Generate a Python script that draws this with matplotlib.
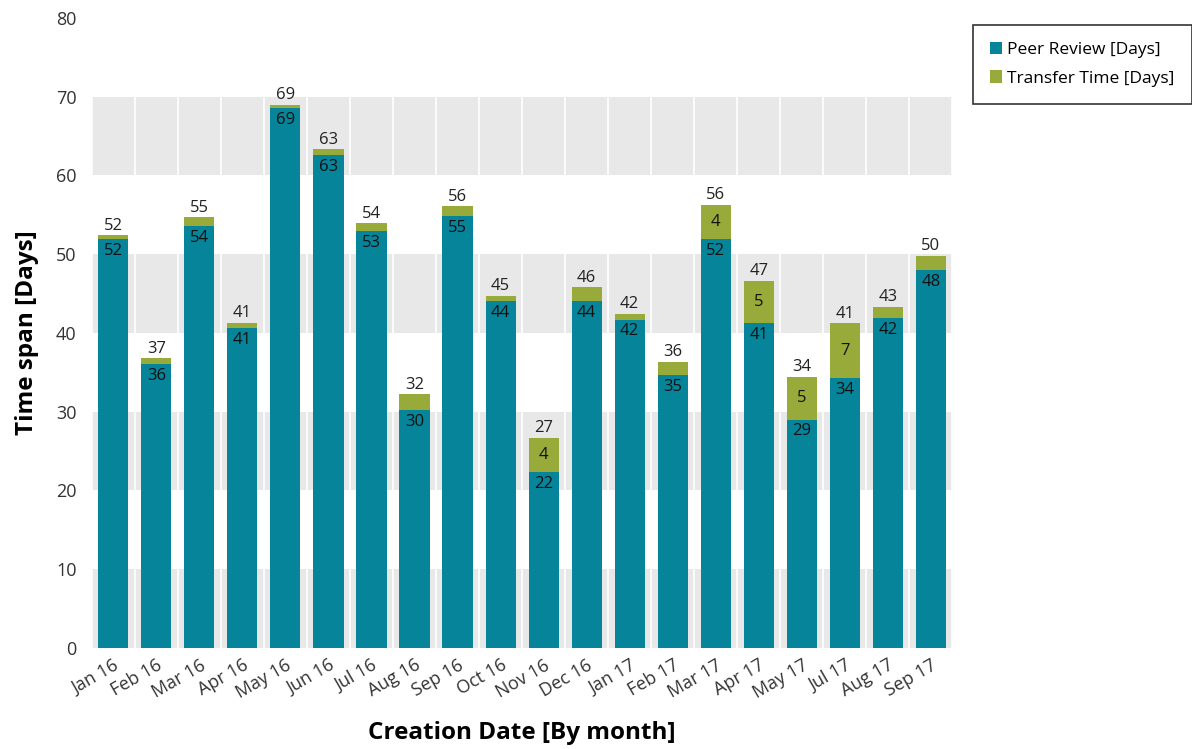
import numpy as np
import matplotlib.pyplot as plt

plt.rcParams['font.family'] = ['Open Sans', 'DejaVu Sans']

months = ["Jan 16", "Feb 16", "Mar 16", "Apr 16", "May 16", "Jun 16", "Jul 16",
          "Aug 16", "Sep 16", "Oct 16", "Nov 16", "Dec 16", "Jan 17", "Feb 17",
          "Mar 17", "Apr 17", "May 17", "Jul 17", "Aug 17", "Sep 17"]
peer_review = [51.9, 36.1, 53.6, 40.6, 68.6, 62.6, 52.9, 30.2, 54.9, 44.0,
               22.3, 44.0, 41.7, 34.6, 51.9, 41.2, 29.0, 34.3, 41.9, 48.0]
transfer = [0.5, 0.7, 1.1, 0.7, 0.4, 0.7, 1.0, 2.0, 1.2, 0.7,
            4.4, 1.8, 0.7, 1.7, 4.4, 5.4, 5.4, 6.9, 1.4, 1.8]

teal = "#05849a"
green = "#98aa3a"

fig = plt.figure(figsize=(11.92, 7.49), dpi=100)
ax = fig.add_axes([0.077, 0.135, 0.722, 0.841])

n = len(months)
x = np.arange(n)

# banded background
for lo in [0, 20, 40, 60]:
    ax.axhspan(lo, lo + 10, color="#e8e8e8", zorder=0, lw=0)
for b in np.arange(n + 1) - 0.5:
    ax.axvline(b, color="white", lw=1.2, zorder=0.5)

ax.bar(x, peer_review, width=0.7, color=teal, label="Peer Review [Days]", zorder=2)
ax.bar(x, transfer, width=0.7, bottom=peer_review, color=green,
       label="Transfer Time [Days]", zorder=2)

for i in range(n):
    p = peer_review[i]
    t = transfer[i]
    ax.text(x[i], p - 0.5, str(int(round(p))), ha="center", va="top",
            fontsize=12, color="#111111", zorder=3)
    if t >= 3:
        ax.text(x[i], p + t / 2, str(int(round(t))), ha="center", va="center",
                fontsize=12, color="#111111", zorder=3)
    ax.text(x[i], p + t + 0.2, str(int(round(p + t))), ha="center", va="bottom",
            fontsize=12, color="#222222", zorder=3)

ax.set_xlim(-0.5, n - 0.5)
ax.set_ylim(0, 80)
ax.set_yticks(range(0, 81, 10))
ax.set_xticks(x)
ax.set_xticklabels(months, rotation=30, ha="right", rotation_mode="anchor")
ax.tick_params(axis="both", length=0, labelsize=13, colors="#333333")
ax.tick_params(axis="y", pad=11)
ax.tick_params(axis="x", pad=6)
for s in ax.spines.values():
    s.set_visible(False)

ax.set_xlabel("Creation Date [By month]", fontsize=17.5, fontweight="bold", labelpad=14)
ax.set_ylabel("Time span [Days]", fontsize=17.5, fontweight="bold", labelpad=12)

leg = ax.legend(loc="upper left", bbox_to_anchor=(0.816, 0.967), bbox_transform=fig.transFigure,
                frameon=True, fancybox=False, edgecolor="black", fontsize=12.5,
                handlelength=0.7, handleheight=0.7, handletextpad=0.3, borderpad=1.0,
                labelspacing=0.7, borderaxespad=0)
leg.get_frame().set_linewidth(1.2)

fig.savefig("out.png", dpi=100)
